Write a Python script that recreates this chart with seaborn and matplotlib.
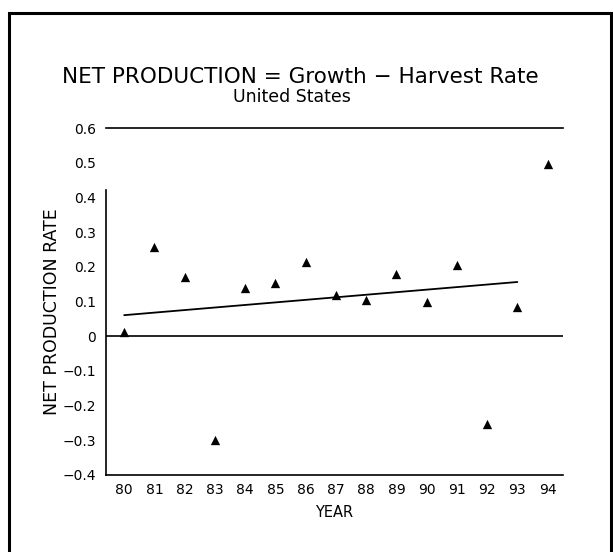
import numpy as np
import pandas as pd
import matplotlib
matplotlib.use("Agg")
import matplotlib.pyplot as plt
import seaborn as sns
from matplotlib.patches import Rectangle

# data
years = [80, 81, 82, 83, 84, 85, 86, 87, 88, 89, 90, 91, 92, 93, 94]
net_rate = [0.012, 0.258, 0.169, -0.30, 0.14, 0.152, 0.214, 0.119,
            0.105, 0.18, 0.099, 0.205, -0.255, 0.084, 0.495]
y_ticks = [0.6, 0.5, 0.4, 0.3, 0.2, 0.1, 0.0, -0.1, -0.2, -0.3, -0.4]
y_tick_labels = ["0.6", "0.5", "0.4", "0.3", "0.2", "0.1", "0",
                 "\u22120.1", "\u22120.2", "\u22120.3", "\u22120.4"]
x_tick_labels = [str(y) for y in years]

df = pd.DataFrame({"year": years, "rate": net_rate})

# linear trend over all years, drawn through 1993
slope, icpt = np.polyfit(df["year"], df["rate"], 1)
trend = pd.DataFrame({"year": years[:-1]})
trend["rate"] = icpt + slope * trend["year"]

sns.set_theme(style="white")
plt.rcParams["font.family"] = ["DejaVu Sans"]
plt.rcParams["text.color"] = "black"
plt.rcParams["axes.labelcolor"] = "black"
plt.rcParams["xtick.color"] = "black"
plt.rcParams["ytick.color"] = "black"

fig = plt.figure(figsize=(6.13, 5.52), dpi=100)
ax = fig.add_axes([0.173, 0.14, 0.745, 0.628])

sns.scatterplot(data=df, x="year", y="rate", marker="^", color="black",
                s=45, edgecolor="black", linewidth=0, ax=ax, zorder=3)
sns.lineplot(data=trend, x="year", y="rate", color="black", lw=1.3, ax=ax)
ax.axhline(0, color="black", lw=1.2)

ax.set_xlim(79.4, 94.5)
ax.set_ylim(-0.4, 0.6)
ax.set_xticks(years)
ax.set_xticklabels(x_tick_labels, fontsize=10)
ax.set_yticks(y_ticks)
ax.set_yticklabels(y_tick_labels, fontsize=10)
ax.tick_params(axis="x", direction="in", length=4, pad=6)
ax.tick_params(axis="y", direction="out", length=3, pad=4)

for side in ["top", "bottom", "left"]:
    ax.spines[side].set_visible(True)
    ax.spines[side].set_color("black")
    ax.spines[side].set_linewidth(1.2)
ax.spines["right"].set_visible(False)
ax.spines["left"].set_bounds(-0.4, 0.42)

ax.set_xlabel("YEAR", fontsize=10.5, labelpad=6)
ax.set_ylabel("NET PRODUCTION RATE", fontsize=12.5)
ax.yaxis.set_label_coords(-0.098, 0.47)

fig.text(0.49, 0.86, "NET PRODUCTION = Growth \u2212 Harvest Rate",
         ha="center", va="center", fontsize=15.5)
fig.text(0.476, 0.824, "United States", ha="center", va="center", fontsize=12.5)

# outer frame of the page
fig.patches.append(Rectangle((0.014, -0.05), 0.982, 1.026, transform=fig.transFigure,
                             fill=False, edgecolor="black", lw=2.2))

fig.savefig("out.png", dpi=100)
